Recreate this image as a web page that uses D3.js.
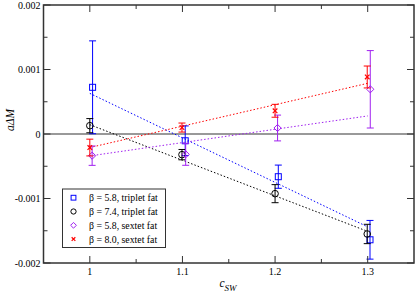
<!DOCTYPE html>
<html><head><meta charset="utf-8">
<script src="https://cdn.jsdelivr.net/npm/d3@7"></script>
<style>body{margin:0;background:#fff}svg{display:block}text{font-family:"Liberation Serif","Times New Roman",serif}</style>
</head><body><svg id="c" width="415" height="296"></svg>
<script>
const xTicks = [1, 1.1, 1.2, 1.3];
const xTickLabels = ["1", "1.1", "1.2", "1.3"];
const yTicks = [-0.002, -0.001, 0, 0.001, 0.002];
const yTickLabels = ["-0.002", "-0.001", "0", "0.001", "0.002"];
const xMinor = [1.05, 1.15, 1.25];
const yMinor = [-0.0015, -0.0005, 0.0005, 0.0015];
const seriesNames = ["β = 5.8, triplet fat", "β = 7.4, triplet fat", "β = 5.8, sextet fat", "β = 8.0, sextet fat"];
const seriesColors = ["#0000ff", "#000000", "#a020f0", "#ff0000"];
const seriesSymbols = ["square", "circle", "diamond", "cross"];
// per-series x positions (slightly offset), values and errors
const xBlue = [1.003, 1.103, 1.2035, 1.3025];
const yBlue = [0.000724, -0.000105, -0.000662, -0.00164];
const eBlue = [0.00072, 0.00023, 0.00018, 0.0003];
const xBlack = [1.0, 1.0995, 1.2, 1.2995];
const yBlack = [0.000129, -0.00032, -0.000925, -0.00155];
const eBlack = [0.00011, 0.00008, 0.00014, 0.00015];
const xPurple = [1.0025, 1.1035, 1.2027, 1.3028];
const yPurple = [-0.000336, -0.000315, 0.000093, 0.000693];
const ePurple = [0.00015, 0.00017, 0.0002, 0.0006];
const xRed = [1.0, 1.0995, 1.2, 1.2995];
const yRed = [-0.00021, 0.0001, 0.00036, 0.000884];
const eRed = [0.00013, 0.00007, 0.0001, 0.00017];
// linear fits (endpoints at c_sw = 1 and 1.3)
const fitX = [1, 1.3];
const fitBlue = [0.00063, -0.00144];
const fitBlack = [0.000144, -0.00151];
const fitPurple = [-0.00034, 0.00028];
const fitRed = [-0.00021, 0.000786];

const series = [
  {x: xBlue, y: yBlue, e: eBlue, fit: fitBlue},
  {x: xBlack, y: yBlack, e: eBlack, fit: fitBlack},
  {x: xPurple, y: yPurple, e: ePurple, fit: fitPurple},
  {x: xRed, y: yRed, e: eRed, fit: fitRed}
];

const svg = d3.select("#c");
const L = 43.5, R = 414, T = 5, B = 263;
const x = d3.scaleLinear().domain([0.95, 1.35]).range([L, R]);
const y = d3.scaleLinear().domain([-0.002, 0.002]).range([B, T]);

// zero line
svg.append("line").attr("x1", L).attr("x2", R).attr("y1", y(0)).attr("y2", y(0))
  .attr("stroke", "#999").attr("stroke-width", 2);

// fit lines
series.forEach((s, i) => {
  svg.append("line").attr("x1", x(fitX[0])).attr("y1", y(s.fit[0]))
    .attr("x2", x(fitX[1])).attr("y2", y(s.fit[1]))
    .attr("stroke", seriesColors[i]).attr("stroke-width", 1).attr("stroke-dasharray", "1.5,2");
});

// error bars and symbols
function sym(g, type, color, cx, cy, k) {
  k = k || 1;
  if (type === "square") { const h = 3 * k; g.append("rect").attr("x", cx - h).attr("y", cy - h).attr("width", 2 * h).attr("height", 2 * h).attr("fill", "none").attr("stroke", color); }
  else if (type === "circle") g.append("circle").attr("cx", cx).attr("cy", cy).attr("r", 3.3 * k).attr("fill", "none").attr("stroke", color);
  else if (type === "diamond") { const h = 3.6 * k; g.append("path").attr("d", `M${cx},${cy-h}L${cx+h},${cy}L${cx},${cy+h}L${cx-h},${cy}Z`).attr("fill", "none").attr("stroke", color); }
  else { const h = 2.3 * k; g.append("path").attr("d", `M${cx-h},${cy-h}L${cx+h},${cy+h}M${cx-h},${cy+h}L${cx+h},${cy-h}`).attr("stroke", color).attr("stroke-width", 1.2); }
}
series.forEach((s, i) => {
  const g = svg.append("g");
  const c = seriesColors[i];
  s.x.forEach((xv, j) => {
    const px = x(xv), top = y(s.y[j] + s.e[j]), bot = y(s.y[j] - s.e[j]);
    g.append("line").attr("x1", px).attr("x2", px).attr("y1", top).attr("y2", bot).attr("stroke", c);
    g.append("line").attr("x1", px - 3.5).attr("x2", px + 3.5).attr("y1", top).attr("y2", top).attr("stroke", c);
    g.append("line").attr("x1", px - 3.5).attr("x2", px + 3.5).attr("y1", bot).attr("y2", bot).attr("stroke", c);
    sym(g, seriesSymbols[i], c, px, y(s.y[j]));
  });
});

// frame and axes
const ax = svg.append("g");
ax.append("rect").attr("x", L).attr("y", T).attr("width", R - L).attr("height", B - T)
  .attr("fill", "none").attr("stroke", "#333").attr("stroke-width", 1.5);
xTicks.forEach((t, i) => {
  ax.append("line").attr("x1", x(t)).attr("x2", x(t)).attr("y1", B).attr("y2", B - 7).attr("stroke", "#333");
  ax.append("line").attr("x1", x(t)).attr("x2", x(t)).attr("y1", T).attr("y2", T + 7).attr("stroke", "#333");
  ax.append("text").attr("x", x(t)).attr("y", B + 12).attr("text-anchor", "middle").attr("font-size", 10).text(xTickLabels[i]);
});
xMinor.forEach(t => {
  ax.append("line").attr("x1", x(t)).attr("x2", x(t)).attr("y1", B).attr("y2", B - 4).attr("stroke", "#333");
  ax.append("line").attr("x1", x(t)).attr("x2", x(t)).attr("y1", T).attr("y2", T + 4).attr("stroke", "#333");
});
yTicks.forEach((t, i) => {
  ax.append("line").attr("x1", L).attr("x2", L + 7).attr("y1", y(t)).attr("y2", y(t)).attr("stroke", "#333");
  ax.append("line").attr("x1", R).attr("x2", R - 7).attr("y1", y(t)).attr("y2", y(t)).attr("stroke", "#333");
  ax.append("text").attr("x", L - 3).attr("y", y(t) + 3.5).attr("text-anchor", "end").attr("font-size", 10).text(yTickLabels[i]);
});
yMinor.forEach(t => {
  ax.append("line").attr("x1", L).attr("x2", L + 4).attr("y1", y(t)).attr("y2", y(t)).attr("stroke", "#333");
  ax.append("line").attr("x1", R).attr("x2", R - 4).attr("y1", y(t)).attr("y2", y(t)).attr("stroke", "#333");
});

// axis labels
svg.append("text").attr("transform", "translate(14,120) rotate(-90)").attr("text-anchor", "middle")
  .attr("font-size", 11.5).attr("font-style", "italic").text("aΔM");
const xl = svg.append("text").attr("x", 228).attr("y", 287).attr("text-anchor", "middle").attr("font-size", 11.5);
xl.append("tspan").attr("font-style", "italic").text("c");
xl.append("tspan").attr("dy", 4).attr("font-size", 9).attr("font-style", "italic").text("SW");

// legend
const lg = svg.append("g");
lg.append("rect").attr("x", 62.5).attr("y", 189).attr("width", 103).attr("height", 58.5)
  .attr("fill", "#fff").attr("stroke", "#333").attr("stroke-width", 1);
seriesNames.forEach((n, i) => {
  const cy = 197.7 + i * 13.8;
  sym(lg, seriesSymbols[i], seriesColors[i], 73.5, cy, 0.8);
  lg.append("text").attr("x", 89).attr("y", cy + 3.5).attr("font-size", 9.8).text(n);
});
</script></body></html>
